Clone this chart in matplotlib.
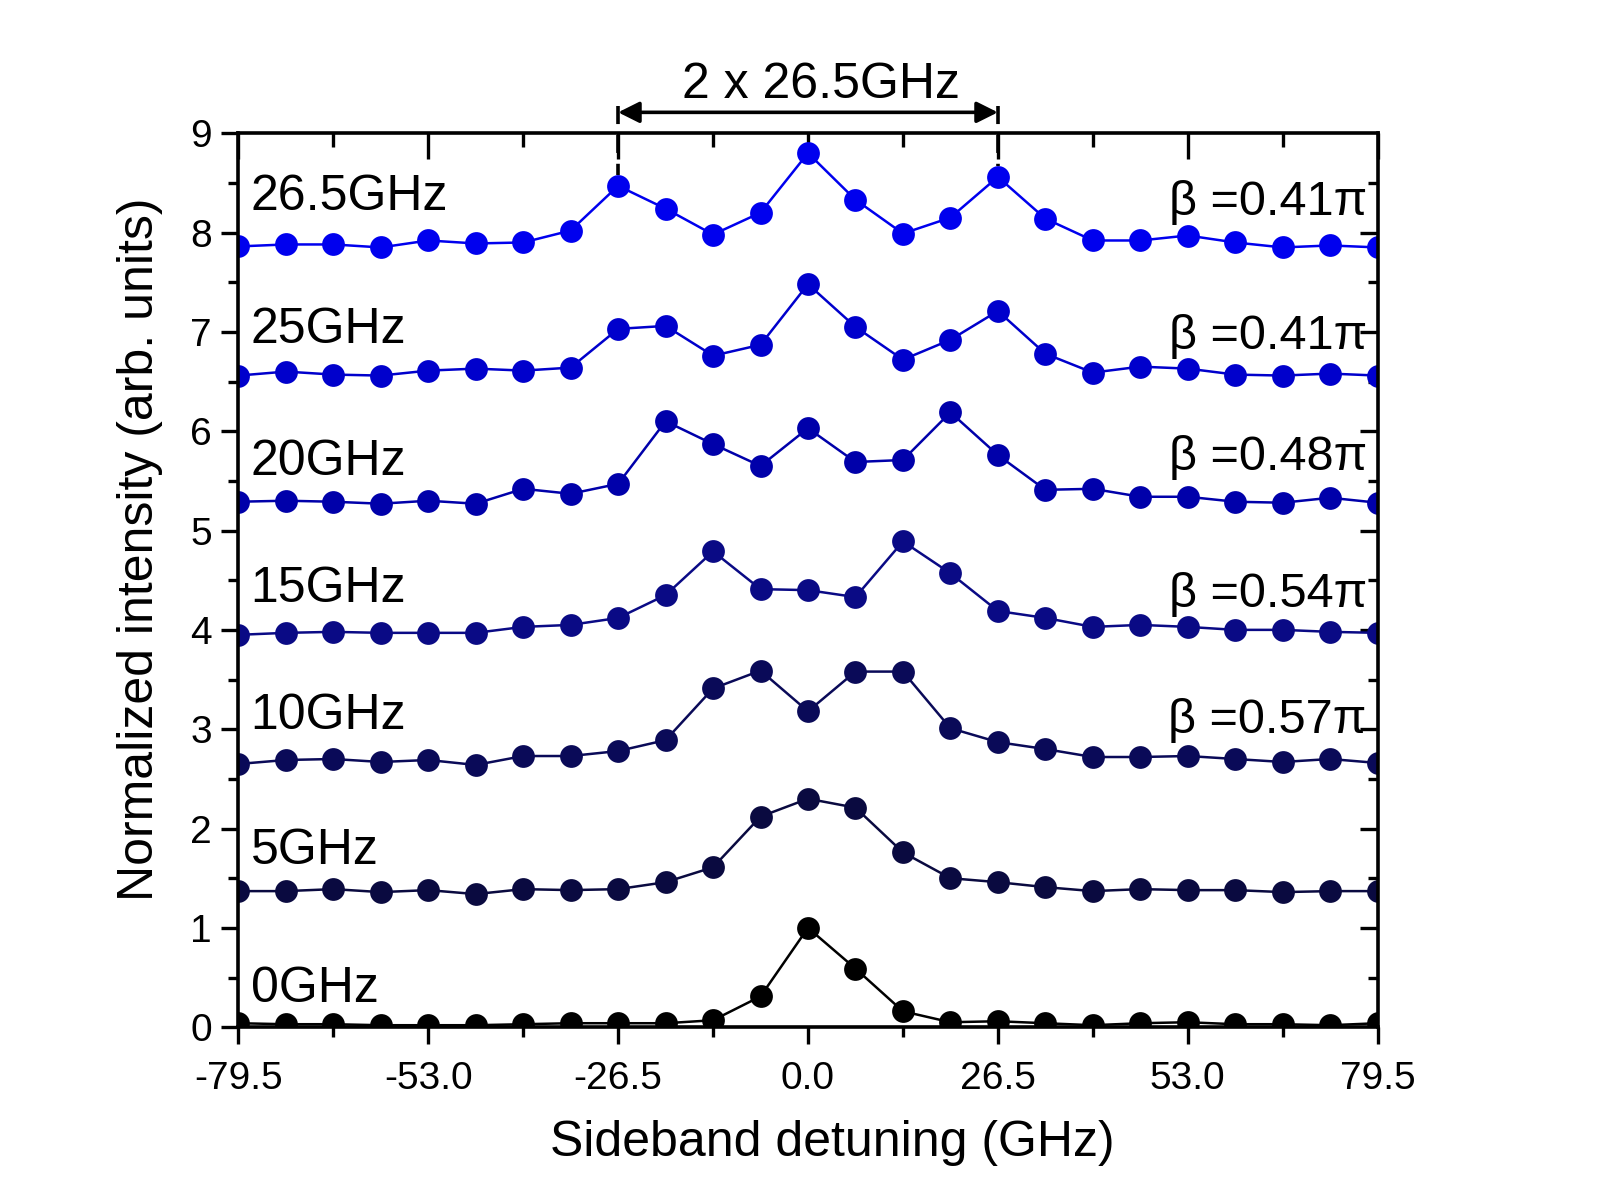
import numpy as np
import matplotlib
matplotlib.use("Agg")
import matplotlib.pyplot as plt
from matplotlib.ticker import MultipleLocator, FixedLocator

plt.rcParams['font.family'] = ['Liberation Sans', 'DejaVu Sans']

detuning = [-79.5 + 6.625 * i for i in range(25)]

s0 = [0.04, 0.03, 0.03, 0.02, 0.02, 0.02, 0.03, 0.04, 0.04, 0.04, 0.07, 0.31, 1.00,
      0.59, 0.16, 0.05, 0.06, 0.04, 0.02, 0.04, 0.05, 0.03, 0.03, 0.02, 0.04]
s5 = [1.37, 1.37, 1.39, 1.36, 1.38, 1.34, 1.39, 1.38, 1.39, 1.46, 1.61, 2.12, 2.30,
      2.21, 1.76, 1.50, 1.46, 1.41, 1.37, 1.39, 1.38, 1.38, 1.36, 1.37, 1.37]
s10 = [2.65, 2.69, 2.70, 2.67, 2.69, 2.64, 2.73, 2.73, 2.78, 2.89, 3.41, 3.59, 3.18,
       3.58, 3.58, 3.01, 2.87, 2.80, 2.72, 2.72, 2.73, 2.70, 2.67, 2.70, 2.66]
s15 = [3.95, 3.97, 3.98, 3.97, 3.97, 3.97, 4.03, 4.05, 4.12, 4.35, 4.79, 4.41, 4.40,
       4.33, 4.89, 4.57, 4.19, 4.12, 4.03, 4.05, 4.03, 4.00, 4.00, 3.98, 3.97]
s20 = [5.29, 5.30, 5.29, 5.27, 5.30, 5.27, 5.42, 5.37, 5.47, 6.10, 5.87, 5.65, 6.03,
       5.69, 5.71, 6.19, 5.76, 5.41, 5.42, 5.34, 5.34, 5.29, 5.28, 5.33, 5.28]
s25 = [6.56, 6.60, 6.57, 6.56, 6.61, 6.63, 6.61, 6.64, 7.03, 7.06, 6.76, 6.87, 7.48,
       7.05, 6.72, 6.92, 7.21, 6.78, 6.59, 6.65, 6.63, 6.57, 6.56, 6.58, 6.56]
s265 = [7.86, 7.88, 7.88, 7.85, 7.92, 7.89, 7.90, 8.02, 8.47, 8.24, 7.98, 8.20, 8.80,
        8.33, 7.99, 8.15, 8.56, 8.14, 7.92, 7.92, 7.97, 7.90, 7.85, 7.87, 7.85]

series = [s0, s5, s10, s15, s20, s25, s265]
labels = ["0GHz", "5GHz", "10GHz", "15GHz", "20GHz", "25GHz", "26.5GHz"]
label_y = [0.38, 1.77, 3.13, 4.41, 5.69, 7.02, 8.36]
colors = ["#000000", "#0a0a40", "#0a0a58", "#0a0a85", "#0000aa", "#0000cc", "#0000ee"]
beta_labels = ["β =0.57π", "β =0.54π", "β =0.48π", "β =0.41π", "β =0.41π"]
beta_y = [3.09, 4.36, 5.74, 6.95, 8.30]

xticks = [-79.5, -53.0, -26.5, 0.0, 26.5, 53.0, 79.5]

fig = plt.figure(figsize=(8, 6), dpi=200)
ax = fig.add_axes([0.149, 0.144, 0.712, 0.745])

for ys, c in zip(series, colors):
    ax.plot(detuning, ys, color=c, lw=0.9, marker='o', markersize=7.2,
            markerfacecolor=c, markeredgecolor=c)

ax.set_xlim(-79.5, 79.5)
ax.set_ylim(0, 9)
ax.xaxis.set_major_locator(FixedLocator(xticks))
ax.xaxis.set_minor_locator(MultipleLocator(13.25))
ax.set_xticklabels([f"{v:.1f}" for v in xticks])
ax.yaxis.set_major_locator(MultipleLocator(1))
ax.yaxis.set_minor_locator(MultipleLocator(0.5))

for sp in ax.spines.values():
    sp.set_linewidth(1.3)

ax.tick_params(which='both', direction='out', top=False, right=False, width=1.2, labelsize=14)
ax.tick_params(which='major', length=6)
ax.tick_params(which='minor', length=3.5)
ax.tick_params(axis='x', pad=6)

# inward ticks on top and right
for x in np.arange(-79.5, 79.6, 13.25):
    major = abs((x + 79.5) % 26.5) < 1e-6
    ax.plot([x, x], [9, 9 - (0.26 if major else 0.14)], color='black', lw=1.2,
            solid_capstyle='butt', clip_on=False, zorder=1)
for y in np.arange(0.5, 9, 0.5):
    major = abs(y - round(y)) < 1e-6
    ax.plot([79.5, 79.5 - (2.5 if major else 1.4)], [y, y], color='black', lw=1.2,
            solid_capstyle='butt', clip_on=False, zorder=1)

ax.set_xlabel("Sideband detuning (GHz)", fontsize=18)
ax.set_ylabel("Normalized intensity (arb. units)", fontsize=18)
ax.xaxis.set_label_coords(0.521, -0.104)
ax.yaxis.set_label_coords(-0.066, 0.535)

for lab, yv in zip(labels, label_y):
    ax.text(-77.8, yv, lab, fontsize=18, va='center', ha='left')
for lab, yv in zip(beta_labels, beta_y):
    ax.text(78.0, yv, lab, fontsize=17.5, va='center', ha='right')

# annotation
ax.annotate("", xy=(-26.5, 9.21), xytext=(26.5, 9.21),
            arrowprops=dict(arrowstyle='<|-|>', color='black', lw=1.3,
                            mutation_scale=16, shrinkA=0, shrinkB=0),
            annotation_clip=False)
ax.text(1.8, 9.49, "2 x 26.5GHz", fontsize=18, ha='center', va='center', clip_on=False)
ax.plot([-26.5, -26.5], [9.27, 8.58], color='black', lw=1.3, ls=(0, (5, 3)), clip_on=False)
ax.plot([26.5, 26.5], [9.27, 8.67], color='black', lw=1.3, ls=(0, (5, 3)), clip_on=False)

fig.savefig("out.png", dpi=200)
